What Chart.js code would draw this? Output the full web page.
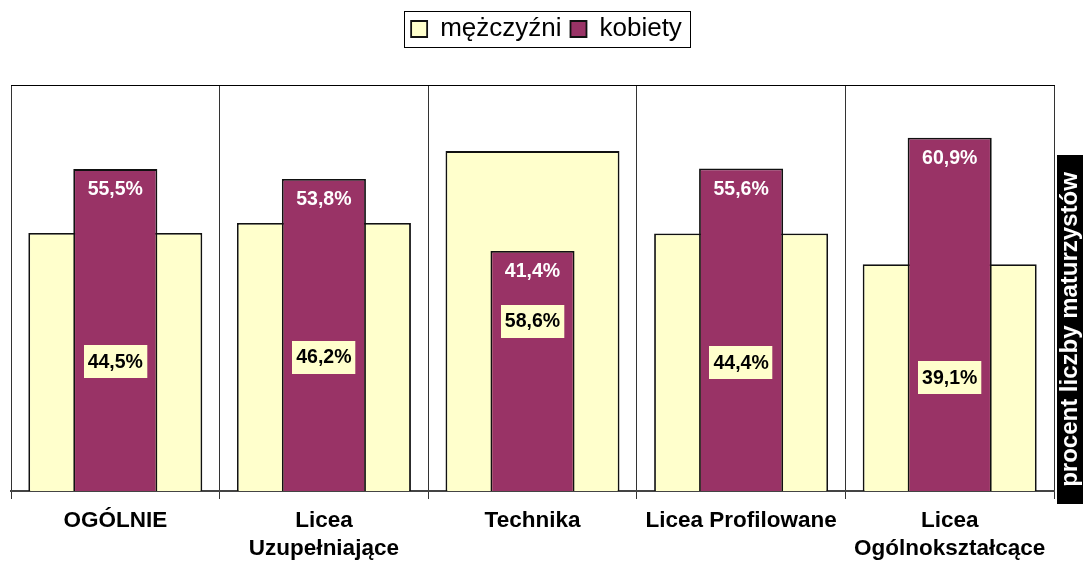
<!DOCTYPE html>
<html>
<head>
<meta charset="utf-8">
<script src="https://cdn.jsdelivr.net/npm/chart.js@4/dist/chart.umd.min.js"></script>
<style>
  html, body { margin: 0; padding: 0; background: #fff; }
  #wrap { width: 1083px; height: 561px; position: relative; }
</style>
</head>
<body>
<div id="wrap"><canvas id="c"></canvas></div>
<script>
const categories = ['OGÓLNIE', ['Licea', 'Uzupełniające'], 'Technika', 'Licea Profilowane', ['Licea', 'Ogólnokształcące']];
const seriesNames = ['mężczyźni', 'kobiety'];
const menValues = [44.5, 46.2, 58.6, 44.4, 39.1];
const womenValues = [55.5, 53.8, 41.4, 55.6, 60.9];
const yAxisTitle = 'procent liczby maturzystów';
const yMax = 70;

const FONT = "'Liberation Sans', Arial, sans-serif";
const fmt = v => v.toFixed(1).replace('.', ',') + '%';

const labelsPlugin = {
  id: 'barLabels',
  afterLayout(chart) {
    const lg = chart.legend;
    if (lg) { lg.left += 14; lg.right += 14; }
  },
  afterDatasetsDraw(chart) {
    const ctx = chart.ctx;
    ctx.save();
    ctx.font = 'bold 19.5px ' + FONT;
    ctx.textAlign = 'center';
    ctx.textBaseline = 'middle';
    const mW = chart.getDatasetMeta(1);
    mW.data.forEach((bar, i) => {
      ctx.fillStyle = '#ffffff';
      ctx.fillText(fmt(womenValues[i]), bar.x, bar.y + 21);
    });
    const mM = chart.getDatasetMeta(0);
    mM.data.forEach((bar, i) => {
      const t = fmt(menValues[i]);
      const w = ctx.measureText(t).width + 8;
      const h = 33;
      const cy = (bar.y + bar.base) / 2;
      ctx.fillStyle = '#FFFFCC';
      ctx.fillRect(Math.round(bar.x - w / 2), Math.round(cy - h / 2), w, h);
      ctx.fillStyle = '#000000';
      ctx.fillText(t, bar.x, cy + 1);
    });
    ctx.restore();
  },
  afterDraw(chart) {
    const ctx = chart.ctx;
    ctx.save();
    const lg = chart.legend;
    if (lg && lg.legendHitBoxes && lg.legendHitBoxes.length) {
      const hb = lg.legendHitBoxes;
      const l = Math.min(...hb.map(b => b.left)) - 7;
      const r = Math.max(...hb.map(b => b.left + b.width)) + 8;
      const t = Math.min(...hb.map(b => b.top)) - 5;
      const btm = Math.max(...hb.map(b => b.top + b.height)) + 5;
      ctx.strokeStyle = '#000';
      ctx.lineWidth = 1;
      ctx.strokeRect(Math.round(l) + 0.5, Math.round(t) + 0.5, Math.round(r - l), Math.round(btm - t));
    }
    const ca = chart.chartArea;
    const bx = ca.right + 3, by = 155, bw = chart.width - bx, bh = 349;
    ctx.fillStyle = '#000';
    ctx.fillRect(bx, by, bw, bh);
    ctx.translate(bx + bw / 2, by + bh / 2);
    ctx.rotate(-Math.PI / 2);
    ctx.fillStyle = '#fff';
    ctx.font = 'bold 24px ' + FONT;
    ctx.textAlign = 'center';
    ctx.textBaseline = 'middle';
    ctx.fillText(yAxisTitle, 0, 0);
    ctx.restore();
  }
};

new Chart(document.getElementById('c'), {
  type: 'bar',
  data: {
    labels: categories,
    datasets: [
      {
        label: seriesNames[0],
        data: menValues,
        backgroundColor: '#FFFFCC',
        borderColor: '#111',
        borderWidth: 1.8,
        grouped: false,
        barPercentage: 0.834,
        categoryPercentage: 1,
        order: 1
      },
      {
        label: seriesNames[1],
        data: womenValues,
        backgroundColor: '#993366',
        borderColor: '#111',
        borderWidth: 1.8,
        grouped: false,
        barPercentage: 0.403,
        categoryPercentage: 1,
        order: 0
      }
    ]
  },
  options: {
    responsive: true,
    maintainAspectRatio: false,
    animation: false,
    devicePixelRatio: 1,
    layout: { padding: { top: 7, left: 11, right: 29, bottom: 0 } },
    plugins: {
      tooltip: { enabled: false },
      legend: {
        position: 'top',
        labels: {
          font: { family: FONT, size: 26 },
          color: '#000',
          boxWidth: 16,
          boxHeight: 16,
          padding: 9,
          sort: (a, b) => a.datasetIndex - b.datasetIndex
        }
      }
    },
    scales: {
      x: {
        position: 'bottom',
        afterFit: s => { s.height = 70; },
        grid: {
          offset: true,
          color: '#333',
          lineWidth: 1,
          tickLength: 8,
          drawOnChartArea: true
        },
        border: { display: true, color: '#444', width: 2 },
        ticks: {
          color: '#000',
          font: { family: FONT, size: 22.5, weight: 'bold', lineHeight: 1.25 },
          padding: 8,
          maxRotation: 0,
          autoSkip: false
        }
      },
      xTop: {
        type: 'category',
        position: 'top',
        afterFit: s => { s.height = 33; },
        grid: { display: false },
        ticks: { display: false },
        border: { display: true, color: '#000', width: 1 }
      },
      y: {
        display: false,
        min: 0,
        max: yMax
      }
    }
  },
  plugins: [labelsPlugin]
});
</script>
</body>
</html>
